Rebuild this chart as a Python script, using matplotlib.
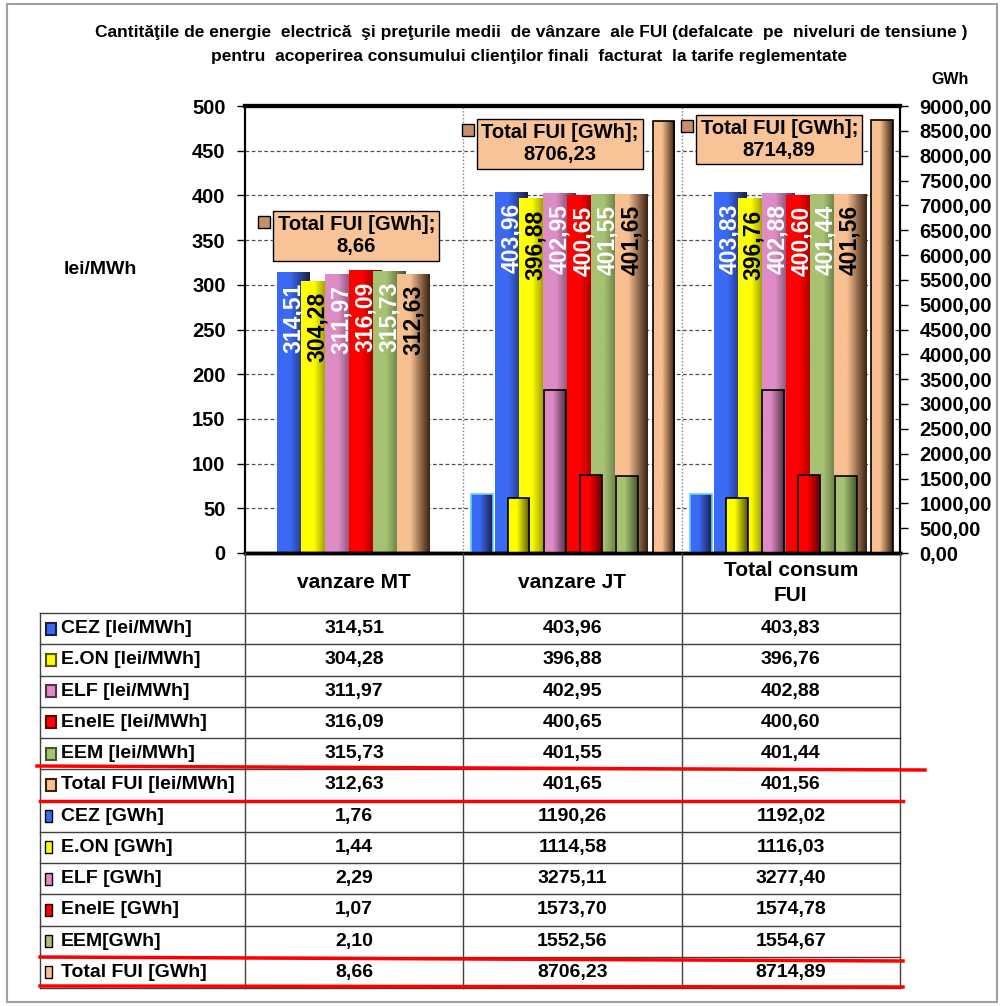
import numpy as np
import matplotlib
matplotlib.use('Agg')
import matplotlib.pyplot as plt
from matplotlib.colors import LinearSegmentedColormap
from matplotlib.patches import Rectangle
from matplotlib.lines import Line2D
from matplotlib.ticker import FuncFormatter, MultipleLocator

# date
categorii = ['vanzare MT', 'vanzare JT', 'Total consum\nFUI']

pret_CEZ = [314.51, 403.96, 403.83]
pret_EON = [304.28, 396.88, 396.76]
pret_ELF = [311.97, 402.95, 402.88]
pret_EnelE = [316.09, 400.65, 400.60]
pret_EEM = [315.73, 401.55, 401.44]
pret_total = [312.63, 401.65, 401.56]

gwh_CEZ = [1.76, 1190.26, 1192.02]
gwh_EON = [1.44, 1114.58, 1116.03]
gwh_ELF = [2.29, 3275.11, 3277.40]
gwh_EnelE = [1.07, 1573.70, 1574.78]
gwh_EEM = [2.10, 1552.56, 1554.67]
gwh_total = [8.66, 8706.23, 8714.89]

etichete_pret = ['CEZ [lei/MWh]', 'E.ON [lei/MWh]', 'ELF [lei/MWh]',
                 'EnelE [lei/MWh]', 'EEM [lei/MWh]', 'Total FUI [lei/MWh]']
etichete_gwh = ['CEZ [GWh]', 'E.ON [GWh]', 'ELF [GWh]',
                'EnelE [GWh]', 'EEM[GWh]', 'Total FUI [GWh]']

preturi = [pret_CEZ, pret_EON, pret_ELF, pret_EnelE, pret_EEM, pret_total]
cantitati = [gwh_CEZ, gwh_EON, gwh_ELF, gwh_EnelE, gwh_EEM, gwh_total]

# culori (deschis -> inchis)
culori = [('#3a6af5', '#1c1c48'), ('#ffff00', '#55550a'), ('#de8cc6', '#553048'),
          ('#ff0000', '#6a0000'), ('#a6c272', '#45552c'), ('#f8c090', '#3a2212')]
text_col = ['white', 'black', 'white', 'white', 'white', 'black']
edge_gwh = ['#66ccff', 'black', 'black', 'black', 'black', 'black']


def fmt(v):
    return ('%.2f' % v).replace('.', ',')


def umple_gradient(axa, bare, c1, c2, z):
    cmap = LinearSegmentedColormap.from_list('g', [(0, c1), (0.4, c1), (1, c2)])
    for b in bare:
        x0, w, h = b.get_x(), b.get_width(), b.get_height()
        im = axa.imshow(np.linspace(0, 1, 100)[None, :], extent=(x0, x0 + w, 0, h),
                        cmap=cmap, aspect='auto', origin='lower',
                        interpolation='bilinear', zorder=z)
        im.set_clip_path(b)


W, H = 1000, 1006
fig = plt.figure(figsize=(10, 10.06), dpi=100)
plt.rcParams['font.family'] = ['Liberation Sans', 'DejaVu Sans']


def fx(p):
    return p / W


def fy(p):
    return 1 - p / H


ax = fig.add_axes([fx(245), fy(553), fx(900) - fx(245), fy(106) - fy(553)])
ax2 = ax.twinx()

x = np.arange(len(categorii))

# bare pret (axa stanga)
w_p, pas_p, start_p = 0.1466, 0.11, -0.28
for k in range(6):
    z = 2 + k * 0.1
    bare = ax.bar(x + start_p + k * pas_p, preturi[k], w_p, facecolor='none',
                  edgecolor='none', zorder=z + 0.05)
    umple_gradient(ax, bare, culori[k][0], culori[k][1], z)
    for xi, v in zip(x, preturi[k]):
        ax.annotate(fmt(v), (xi + start_p + k * pas_p, v), xytext=(0, -8),
                    textcoords='offset points', rotation=90, ha='center', va='top',
                    fontsize=16.5, fontweight='bold', color=text_col[k], zorder=5)

# bare GWh (axa dreapta)
w_g, pas_g, start_g = 0.1, 0.166, -0.413
for k in range(6):
    z = 2 + k * 0.1
    bare = ax2.bar(x + start_g + k * pas_g, cantitati[k], w_g, facecolor='none',
                   edgecolor=edge_gwh[k], linewidth=1.2, zorder=z + 0.05)
    umple_gradient(ax2, bare, culori[k][0], culori[k][1], z)

# etichete Total FUI [GWh]
pozitii_eticheta = [(0.01, 6383), (0.943, 8235), (1.947, 8325)]
for (px, py), v in zip(pozitii_eticheta, gwh_total):
    ax2.text(px, py, 'Total FUI [GWh];\n' + fmt(v), ha='center', va='center',
             fontsize=14.5, fontweight='bold', linespacing=1.2, zorder=10,
             bbox=dict(boxstyle='square,pad=0.22', facecolor='#f8c396',
                       edgecolor='black', linewidth=1))
    ax2.plot([px], [py], marker='s', markersize=8, markerfacecolor='#c8906a',
             markeredgecolor='black', markeredgewidth=1, zorder=10,
             transform=ax2.transData + matplotlib.transforms.ScaledTranslation(
                 -92 / 100, 14 / 100, fig.dpi_scale_trans))

ax.set_xlim(-0.5, 2.5)
ax.set_ylim(0, 500)
ax2.set_ylim(0, 9000)
ax.yaxis.set_major_locator(MultipleLocator(50))
ax2.yaxis.set_major_locator(MultipleLocator(500))
ax2.yaxis.set_major_formatter(FuncFormatter(lambda v, p: fmt(v)))
ax.set_xticks([])
ax2.set_xticks([])

for a in (ax, ax2):
    a.tick_params(axis='y', labelsize=14.5, length=6, width=1, direction='out', pad=8)
    for t in a.get_yticklabels():
        t.set_fontweight('bold')

# grila
for yv in range(50, 500, 50):
    ax.axhline(yv, color='#505050', lw=0.9, ls=(0, (3, 2)), zorder=1)
for xv in (0.5, 1.5):
    ax.axvline(xv, color='#808080', lw=1, ls=(0, (1, 1.5)), zorder=1)

for a in (ax, ax2):
    a.spines['top'].set_linewidth(3)
    a.spines['bottom'].set_linewidth(2.5)
    a.spines['left'].set_linewidth(1.5)
    a.spines['right'].set_linewidth(1.5)

# titlu si etichete axe
fig.text(0.531, fy(33), 'Cantităţile de energie  electrică  şi preţurile medii  de vânzare  ale FUI '
         '(defalcate  pe  niveluri de tensiune )', ha='center', va='center',
         fontsize=12.5, fontweight='bold', family=['Liberation Sans Narrow', 'Liberation Sans'])
fig.text(0.529, fy(57), 'pentru  acoperirea consumului clienţilor finali  facturat  la tarife reglementate',
         ha='center', va='center', fontsize=12.5, fontweight='bold',
         family=['Liberation Sans Narrow', 'Liberation Sans'])
fig.text(fx(100), fy(270), 'lei/MWh', ha='center', va='center', fontsize=14, fontweight='bold')
fig.text(fx(950), fy(80), 'GWh', ha='center', va='center', fontsize=11.5, fontweight='bold',
         family=['Liberation Sans Narrow', 'Liberation Sans'])

# tabel de date
def linie(x1, y1, x2, y2, c='#404040', lw=1.0):
    fig.add_artist(Line2D([fx(x1), fx(x2)], [fy(y1), fy(y2)], color=c, lw=lw))


col_x = [245, 463.3, 681.7, 900]
col_c = [(col_x[i] + col_x[i + 1]) / 2 for i in range(3)]
rand_top, rand_h = 613, 31.25
n_rand = 12

for cx in col_x:
    linie(cx, 553, cx, rand_top + n_rand * rand_h)
linie(40, rand_top, 40, rand_top + n_rand * rand_h)
for r in range(n_rand + 1):
    linie(40, rand_top + r * rand_h, 900, rand_top + r * rand_h)

for c, nume in zip(col_c, categorii):
    fig.text(fx(c), fy(583), nume, ha='center', va='center', fontsize=15,
             fontweight='bold', linespacing=1.4)

etichete = etichete_pret + etichete_gwh
valori = preturi + cantitati
for r in range(n_rand):
    yc = rand_top + (r + 0.5) * rand_h
    k = r % 6
    if r < 6:
        fig.add_artist(Rectangle((fx(46), fy(yc + 6)), fx(10), fy(yc - 6) - fy(yc + 6),
                                 transform=fig.transFigure, facecolor=culori[k][0],
                                 edgecolor=culori[k][1], lw=1.5))
    else:
        fig.add_artist(Rectangle((fx(45), fy(yc + 6)), fx(7), fy(yc - 6) - fy(yc + 6),
                                 transform=fig.transFigure, facecolor=culori[k][0],
                                 edgecolor='black', lw=1))
    fig.text(fx(61), fy(yc), etichete[r], ha='left', va='center', fontsize=14, fontweight='bold')
    for c, v in zip(col_c, valori[r]):
        fig.text(fx(c), fy(yc), fmt(v), ha='center', va='center', fontsize=14, fontweight='bold')

# linii rosii
linie(37, 766, 925, 770, c='red', lw=2.5)
linie(40, 801, 903, 801, c='red', lw=2.5)
linie(40, 957, 903, 961, c='red', lw=2.5)
linie(40, 986, 903, 987, c='red', lw=2.5)

# chenar
fig.add_artist(Rectangle((fx(7), fy(1002)), fx(990), fy(4) - fy(1002), transform=fig.transFigure,
                         facecolor='none', edgecolor='#a0a0a0', lw=1.5))

fig.savefig('out.png', dpi=100)
